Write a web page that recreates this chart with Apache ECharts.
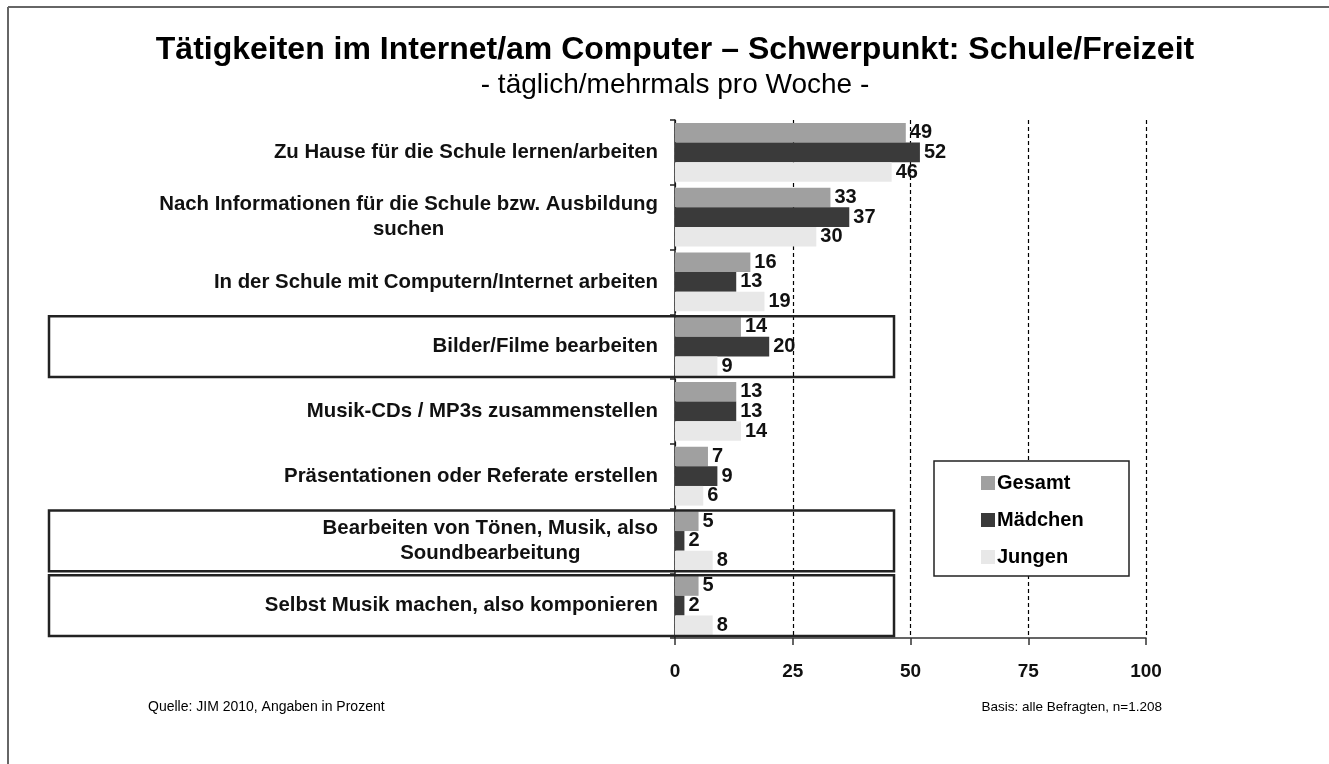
<!DOCTYPE html>
<html>
<head>
<meta charset="utf-8">
<script src="https://cdn.jsdelivr.net/npm/echarts@6/dist/echarts.min.js"></script>
<style>
html,body{margin:0;padding:0;background:#fff;}
#chart{width:1329px;height:764px;}
</style>
</head>
<body>
<div id="chart"></div>
<script>
const categories = [
  'Zu Hause für die Schule lernen/arbeiten',
  'Nach Informationen für die Schule bzw. Ausbildung\nsuchen',
  'In der Schule mit Computern/Internet arbeiten',
  'Bilder/Filme bearbeiten',
  'Musik-CDs / MP3s zusammenstellen',
  'Präsentationen oder Referate erstellen',
  'Bearbeiten von Tönen, Musik, also\nSoundbearbeitung',
  'Selbst Musik machen, also komponieren'
];
const gesamt  = [49, 33, 16, 14, 13, 7, 5, 5];
const maedchen = [52, 37, 13, 20, 13, 9, 2, 2];
const jungen  = [46, 30, 19, 9, 14, 6, 8, 8];
const highlighted = [3, 6, 7];
const xTicks = [0, 25, 50, 75, 100];

const FONT = '"Liberation Sans", Arial, sans-serif';
const chart = echarts.init(document.getElementById('chart'));

function mkSeries(name, data, color) {
  return {
    name, type: 'bar', data,
    itemStyle: { color },
    barGap: '0%',
    barCategoryGap: '9%',
    label: {
      show: true, position: 'right', distance: 4,
      fontFamily: FONT, fontWeight: 'bold', fontSize: 20, color: '#111'
    },
    z: 3
  };
}

const option = {
  animation: false,
  backgroundColor: '#fff',
  title: [
    { text: 'Tätigkeiten im Internet/am Computer – Schwerpunkt: Schule/Freizeit',
      left: 670, textAlign: 'center', top: 29,
      textStyle: { fontFamily: FONT, fontWeight: 'bold', fontSize: 32, color: '#000' } },
    { text: '- täglich/mehrmals pro Woche -',
      left: 670, textAlign: 'center', top: 66,
      textStyle: { fontFamily: FONT, fontWeight: 'normal', fontSize: 28, color: '#000' } },
    { text: 'Quelle: JIM 2010, Angaben in Prozent', left: 143, top: 695,
      textStyle: { fontFamily: FONT, fontWeight: 'normal', fontSize: 14, color: '#000' } },
    { text: 'Basis: alle Befragten, n=1.208', right: 162, top: 695,
      textStyle: { fontFamily: FONT, fontWeight: 'normal', fontSize: 13.5, color: '#000' } }
  ],
  legend: {
    orient: 'vertical',
    left: 981, top: 473, padding: 0,
    itemWidth: 14, itemHeight: 14, itemGap: 17,
    icon: 'rect',
    data: ['Gesamt', 'Mädchen', 'Jungen'],
    textStyle: { fontFamily: FONT, fontWeight: 'bold', fontSize: 20, lineHeight: 20, color: '#000', padding: [0, 0, 0, -3] }
  },
  grid: { left: 675, right: 183, top: 120, bottom: 126, containLabel: false },
  xAxis: {
    type: 'value', min: 0, max: 100, interval: 25,
    axisLine: { show: true, lineStyle: { color: '#333', width: 1.5 } },
    axisTick: { show: true, length: 7, lineStyle: { color: '#333', width: 1.5 } },
    axisLabel: {
      margin: 24, fontFamily: FONT, fontWeight: 'bold', fontSize: 19, color: '#111',
      formatter: v => xTicks.includes(v) ? String(v) : ''
    },
    splitLine: { show: true, lineStyle: { color: '#000', type: [4, 3], width: 1.2 } }
  },
  yAxis: {
    type: 'category', data: categories, inverse: true,
    axisLine: { show: true, lineStyle: { color: '#222', width: 1.5 } },
    axisTick: { show: true, length: 5, lineStyle: { color: '#222', width: 1.5 } },
    axisLabel: {
      margin: 17, fontFamily: FONT, fontWeight: 'bold', fontSize: 20.4, color: '#111',
      lineHeight: 25,
      formatter: v => v.split('\n').map(s => '{c|' + s + '}').join('\n'),
      rich: { c: { align: 'center', fontFamily: FONT, fontWeight: 'bold', fontSize: 20.4, color: '#111', lineHeight: 25 } }
    }
  },
  series: [
    mkSeries('Gesamt', gesamt, '#a0a0a0'),
    mkSeries('Mädchen', maedchen, '#3a3a3a'),
    mkSeries('Jungen', jungen, '#e8e8e8')
  ]
};
chart.setOption(option);

function drawGraphics() {
  const els = [];
  // outer frame (top and left)
  els.push({ type: 'line', shape: { x1: 8, y1: 7, x2: 1329, y2: 7 }, style: { stroke: '#666', lineWidth: 2 }, silent: true });
  els.push({ type: 'line', shape: { x1: 8, y1: 7, x2: 8, y2: 764 }, style: { stroke: '#666', lineWidth: 2 }, silent: true });
  // highlight boxes around certain categories
  highlighted.forEach(i => {
    const yc = chart.convertToPixel({ yAxisIndex: 0 }, categories[i]);
    const band = (chart.convertToPixel({ yAxisIndex: 0 }, categories[1]) - chart.convertToPixel({ yAxisIndex: 0 }, categories[0]));
    const xr = chart.convertToPixel({ xAxisIndex: 0 }, 46.5);
    const h = band - 4;
    els.push({ type: 'rect', shape: { x: 49, y: yc - h / 2, width: xr - 49, height: h },
      style: { fill: 'none', stroke: '#222', lineWidth: 2.5 }, z: 10, silent: true });
  });
  // legend frame
  els.push({ type: 'rect', shape: { x: 934, y: 461, width: 195, height: 115 },
    style: { fill: '#fff', stroke: '#222', lineWidth: 1.5 }, z: 0, zlevel: 0, silent: true });
  chart.setOption({ graphic: els });
}
drawGraphics();
</script>
</body>
</html>
